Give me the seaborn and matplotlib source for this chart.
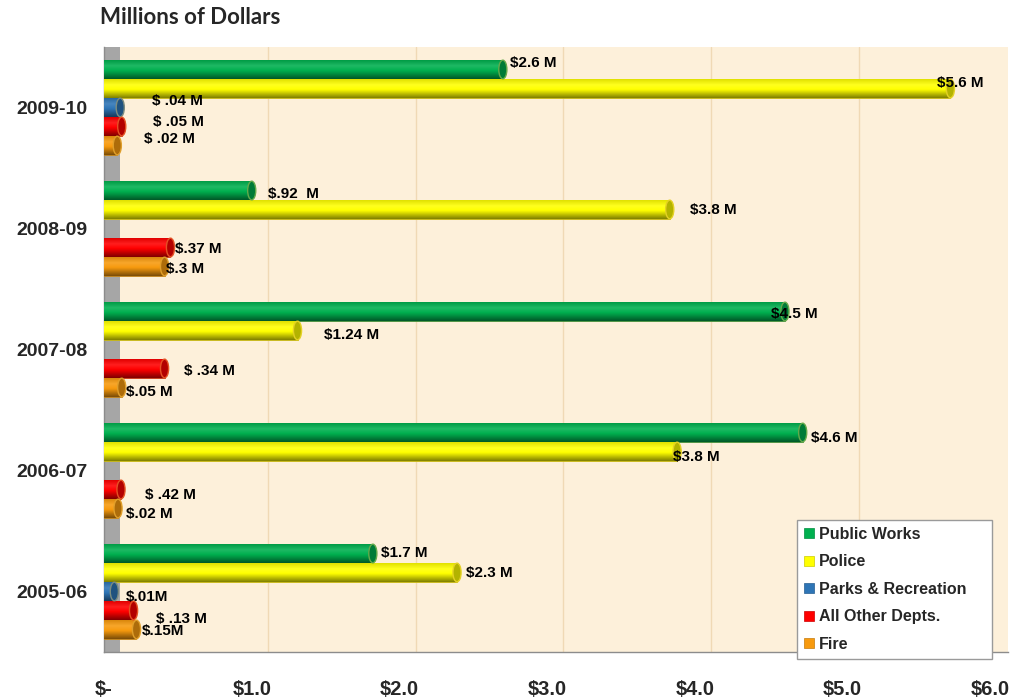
import numpy as np
import pandas as pd
import matplotlib
matplotlib.use("Agg")
import matplotlib.pyplot as plt
import seaborn as sns
from matplotlib.colors import LinearSegmentedColormap, to_rgb
from matplotlib.patches import Patch, Ellipse

# ---------------- data ----------------
years = ["2009-10", "2008-09", "2007-08", "2006-07", "2005-06"]
departments = ["Public Works", "Police", "Parks & Recreation", "All Other Depts.", "Fire"]
public_works = [2.70, 1.00, 4.61, 4.73, 1.82]
police = [5.73, 3.83, 1.31, 3.88, 2.39]
parks = [0.11, np.nan, np.nan, np.nan, 0.07]
all_other = [0.12, 0.45, 0.41, 0.115, 0.20]
fire = [0.09, 0.41, 0.12, 0.095, 0.22]

label_texts = [
    "$2.6 M", "$5.6 M", "$ .04 M", "$ .05 M", "$ .02 M",
    "$.92  M", "$3.8 M", "$.37 M", "$.3 M",
    "$4.5 M", "$1.24 M", "$ .34 M", "$.05 M",
    "$4.6 M", "$3.8 M", "$ .42 M", "$.02 M",
    "$1.7 M", "$2.3 M", "$.01M", "$ .13 M", "$.15M",
]
# label anchor positions (left edge x in $M, y in category units)
label_x = [2.746, 5.641, 0.325, 0.332, 0.271,
           1.112, 3.966, 0.481, 0.420,
           4.515, 1.492, 0.542, 0.149,
           4.786, 3.851, 0.278, 0.149,
           1.878, 2.454, 0.149, 0.353, 0.258]
label_y = [-0.368, -0.202, -0.054, 0.120, 0.260,
           0.715, 0.847, 1.169, 1.335,
           1.707, 1.880, 2.178, 2.351,
           2.731, 2.888, 3.202, 3.360,
           3.682, 3.847, 4.045, 4.227, 4.326]

x_ticks = [0, 1, 2, 3, 4, 5, 6]
x_tick_labels = ["$-", "$1.0", "$2.0", "$3.0", "$4.0", "$5.0", "$6.0"]

colors = {
    "Public Works": "#00B04F",
    "Police": "#FFFF00",
    "Parks & Recreation": "#2E75B6",
    "All Other Depts.": "#FF0000",
    "Fire": "#F79A0E",
}

df = pd.DataFrame({
    "year": np.repeat(years, len(departments)),
    "dept": departments * len(years),
    "value": np.array([public_works, police, parks, all_other, fire]).T.ravel(),
})

# ---------------- figure ----------------
sns.set_style("white")
plt.rcParams["font.family"] = ["Liberation Sans", "DejaVu Sans"]

fig = plt.figure(figsize=(10.15, 7.0), dpi=100)
ax = fig.add_axes([104 / 1015, 48 / 700, (1008 - 104) / 1015, 605 / 700])

bg = "#FDF0DA"
ax.set_facecolor(bg)

sns.barplot(data=df, y="year", x="value", hue="dept", order=years,
            hue_order=departments, palette=colors, orient="h",
            width=0.785, saturation=1, legend=False, ax=ax, zorder=3)

xmin, xmax = 0.0, 6.12
ymin, ymax = 4.5, -0.5

# cylinder shading
def mix(c, other, t):
    c = np.array(to_rgb(c)); o = np.array(to_rgb(other))
    return tuple(c * (1 - t) + o * t)

grad = np.linspace(0, 1, 64).reshape(-1, 1)
bar_patches = list(ax.patches)
for p in bar_patches:
    w = p.get_width()
    if not np.isfinite(w) or w <= 0:
        continue
    fc = p.get_facecolor()[:3]
    x0, y0, h = p.get_x(), p.get_y(), p.get_height()
    shrink = 0.02 * h
    p.set_y(y0 + shrink / 2); p.set_height(h - shrink)
    y0, h = p.get_y(), p.get_height()
    p.set_edgecolor(mix(fc, "#8a6d2a", 0.55)); p.set_linewidth(0.6)
    cmap = LinearSegmentedColormap.from_list(
        "cyl", [(0, mix(fc, "black", 0.12)), (0.3, mix(fc, "white", 0.12)),
                (0.55, fc), (1, mix(fc, "black", 0.5))])
    im = ax.imshow(grad, cmap=cmap, extent=[x0, x0 + w, y0 + h, y0],
                   origin="upper", aspect="auto", zorder=3.1, interpolation="bilinear")
    im.set_clip_path(p)
    cap = Ellipse((x0 + w, y0 + h / 2), width=0.055, height=h,
                  facecolor=mix(fc, "black", 0.3), edgecolor=mix(fc, "#c9a347", 0.5),
                  lw=1.0, zorder=3.2)
    ax.add_patch(cap)

# back wall and gridlines
ax.axvspan(xmin, 0.11, color="#A6A6A6", zorder=0.5, lw=0)
for k in range(1, 6):
    ax.axvline(k + 0.11, color="#F0D9B5", lw=1.0, zorder=0.6)

ax.set_xlim(xmin, xmax)
ax.set_ylim(ymin, ymax)

# data labels
for t, lx, ly in zip(label_texts, label_x, label_y):
    ax.text(lx, ly, t, ha="left", va="center", fontsize=11, fontweight="bold",
            color="black", zorder=5)

# axes styling
for s in ["top", "right"]:
    ax.spines[s].set_visible(False)
for s in ["left", "bottom"]:
    ax.spines[s].set_color("#8C8C8C")
    ax.spines[s].set_linewidth(1.0)

ax.set_xticks(x_ticks, labels=x_tick_labels)
ax.set_yticks(range(len(years)), labels=years)
ax.set_yticks(np.arange(-0.5, len(years), 1.0), minor=True)
ax.tick_params(axis="y", which="major", length=0, pad=12, labelsize=14)
ax.tick_params(axis="y", which="minor", length=9, color="#8C8C8C", width=1)
ax.tick_params(axis="x", which="major", length=7, color="#8C8C8C", width=1,
               pad=13, labelsize=14.5, direction="out")
for lab in ax.get_xticklabels() + ax.get_yticklabels():
    lab.set_fontweight("bold")
ax.set_xlabel("")
ax.set_ylabel("")

# title
fig.text(100 / 1015, 1 - 17 / 700, "Millions of Dollars", fontsize=16,
         fontweight="bold", family=["Lato", "DejaVu Sans"], va="center", ha="left")

# legend
handles = [Patch(facecolor=colors[d], edgecolor=mix(colors[d], "black", 0.2), lw=0.5)
           for d in departments]
leg = ax.legend(handles, departments, loc="lower left", mode="expand",
                bbox_to_anchor=(797 / 1015, (700 - 659) / 700, 195 / 1015, 137 / 700),
                bbox_transform=fig.transFigure, frameon=True, fancybox=False,
                handlelength=0.6, handleheight=0.6, handletextpad=0.3,
                labelspacing=0.78, borderpad=0.45, borderaxespad=0,
                prop={"weight": "bold", "size": 11.5})
leg.get_frame().set_edgecolor("#9A9A9A")
leg.get_frame().set_facecolor("white")
leg.get_frame().set_alpha(1)
leg.set_zorder(10)

fig.savefig("out.png", dpi=100, facecolor="white")
